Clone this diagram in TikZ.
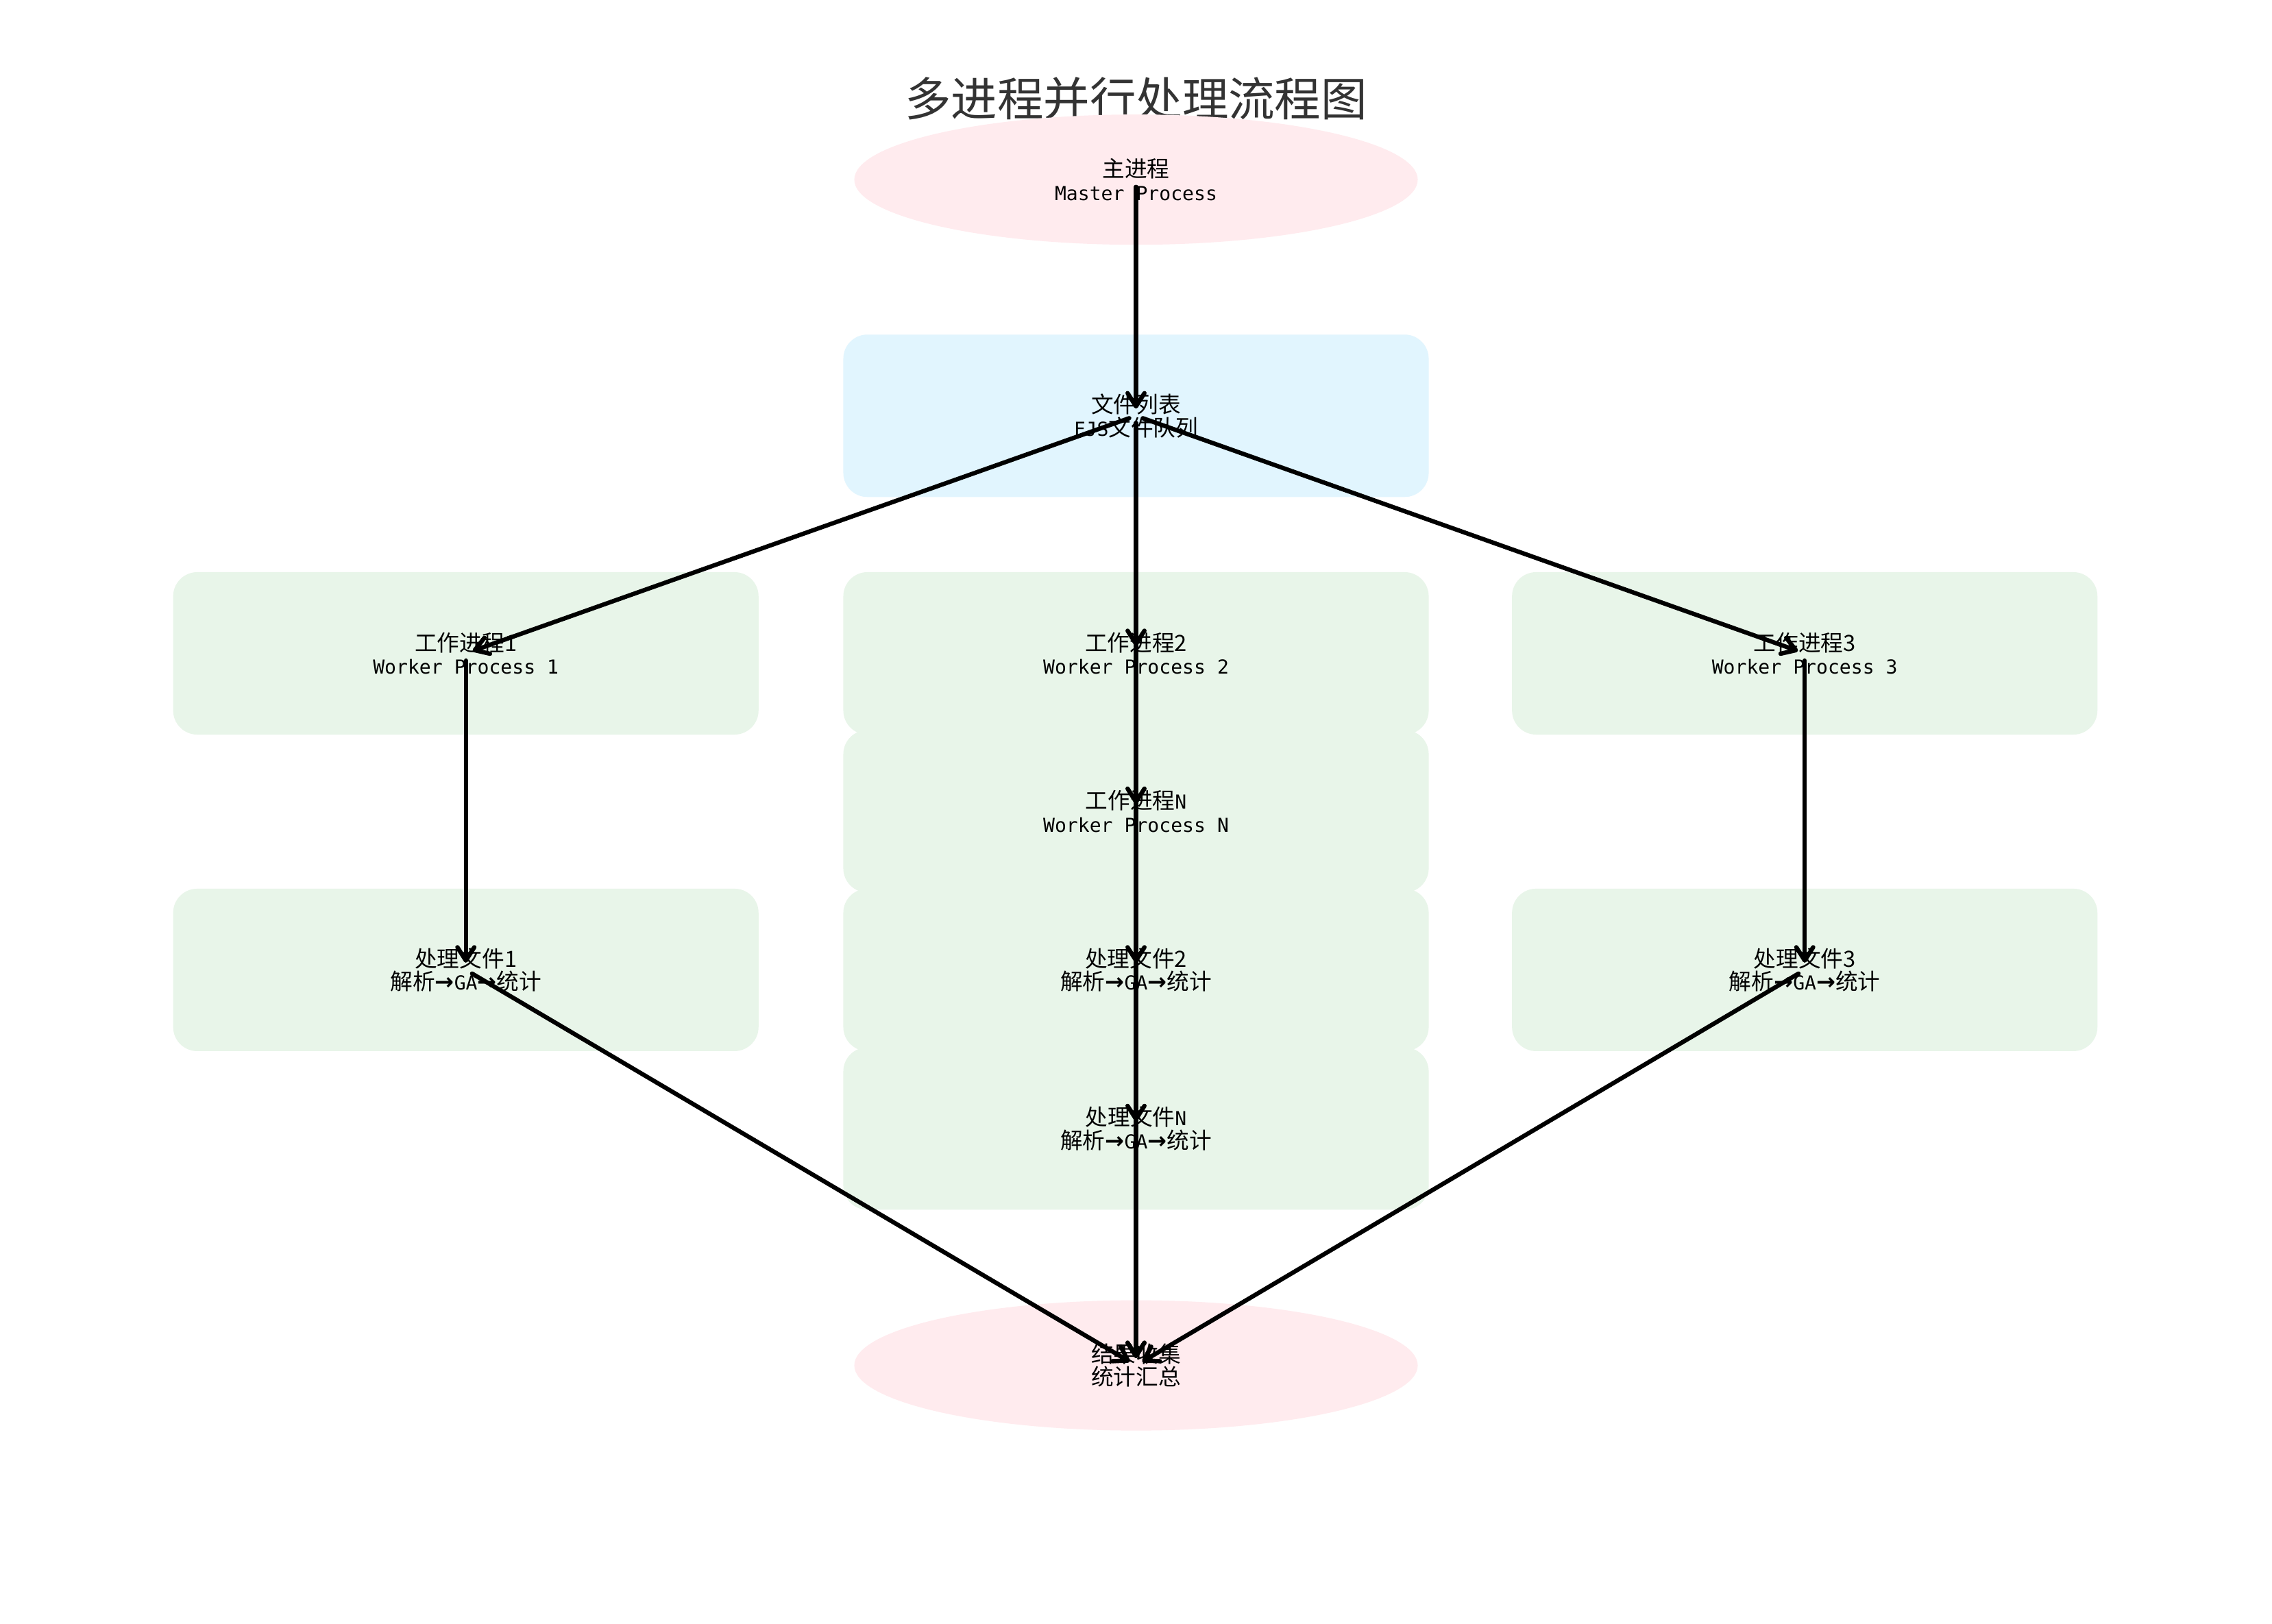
\documentclass[tikz,border=0pt]{standalone}
\usepackage{fontspec}
\usetikzlibrary{shapes.geometric,arrows.meta}
\newfontfamily\cjk{Noto Sans CJK SC}
\newfontfamily\mono{DejaVu Sans Mono}
\newfontfamily\arrowf{DejaVu Sans}
\definecolor{pinkf}{HTML}{FFEBEE}
\definecolor{bluef}{HTML}{E1F5FE}
\definecolor{greenf}{HTML}{E8F5E9}
\definecolor{titlec}{HTML}{333333}
\newcommand{\latn}[1]{{\mono\fontsize{8}{9.6}\selectfont #1}}
\newcommand{\rarr}{{\arrowf\bfseries\fontsize{9.5}{9.6}\selectfont →}}
\newcommand{\nodefont}{\cjk\fontsize{9.3}{9.6}\selectfont\lineskiplimit=-20pt\relax\lineskip=0pt\relax}
\tikzset{
  base/.style={align=center, font=\nodefont, text=black, inner sep=0pt},
  ell/.style={base, ellipse, fill=pinkf, minimum width=82.2mm, minimum height=19.0mm},
  boxf/.style={base, rectangle, rounded corners=10pt, fill=bluef, minimum width=85.4mm, minimum height=23.7mm},
  boxw/.style={boxf, fill=greenf},
  conn/.style={line width=1.8pt, line cap=round, -{Straight Barb[length=5.5pt,width=7pt,line cap=round,line join=round]}, shorten <=3pt, shorten >=3pt}
}
\begin{document}
\begin{tikzpicture}[x=0.2114mm,y=-0.2114mm]
\useasboundingbox[fill=white] (0,0) rectangle (1568,1121);
\node[font=\cjk\fontsize{19.2}{22}\selectfont, text=titlec] (title) at (784,68) {多进程并行处理流程图};
\node[ell] (master) at (784,124) {主进程\\\latn{Master Process}};
\node[boxf] (file) at (784,287) {文件列表\\\latn{FJS}文件队列};
\node[boxw] (w1) at (321.5,451) {工作进程1\\\latn{Worker Process 1}};
\node[boxw] (w2) at (784,451) {工作进程2\\\latn{Worker Process 2}};
\node[boxw] (w3) at (1245.5,451) {工作进程3\\\latn{Worker Process 3}};
\node[boxw] (wN) at (784,560) {工作进程\latn{N}\\\latn{Worker Process N}};
\node[boxw] (p1) at (321.5,669.5) {处理文件1\\解析\rarr\latn{GA}\rarr 统计};
\node[boxw] (p2) at (784,669.5) {处理文件2\\解析\rarr\latn{GA}\rarr 统计};
\node[boxw] (p3) at (1245.5,669.5) {处理文件3\\解析\rarr\latn{GA}\rarr 统计};
\node[boxw] (pN) at (784,779) {处理文件\latn{N}\\解析\rarr\latn{GA}\rarr 统计};
\node[ell] (result) at (784,942.5) {结果收集\\统计汇总};
\draw[conn] (master.center) -- (file.center);
\draw[conn] (file.center) -- (w1.center);
\draw[conn] (file.center) -- (w2.center);
\draw[conn] (file.center) -- (w3.center);
\draw[conn] (file.center) -- (wN.center);
\draw[conn] (w1.center) -- (p1.center);
\draw[conn] (w2.center) -- (p2.center);
\draw[conn] (w3.center) -- (p3.center);
\draw[conn] (wN.center) -- (pN.center);
\draw[conn] (p1.center) -- (result.center);
\draw[conn] (p2.center) -- (result.center);
\draw[conn] (p3.center) -- (result.center);
\draw[conn] (pN.center) -- (result.center);
\end{tikzpicture}
\end{document}
